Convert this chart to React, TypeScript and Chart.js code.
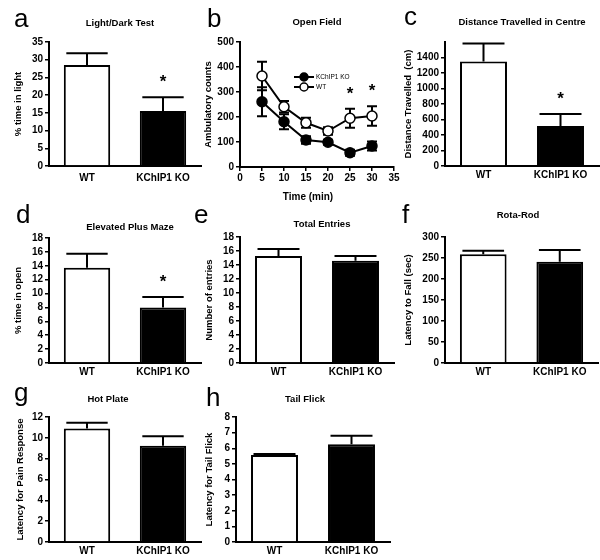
import React, { useEffect, useRef } from "react";
import { Chart, registerables } from "chart.js";

Chart.register(...registerables);

const FONT = "'Liberation Sans', Arial, Helvetica, sans-serif";
Chart.defaults.font.family = FONT;
Chart.defaults.color = "#000";

// ---------- data ----------
const groups = ["WT", "KChIP1 KO"];

// a: Light/Dark Test
const lightDarkMeans = [28.5, 15.5];
const lightDarkErr = [3.3, 3.9];
const lightDarkSig = [false, true];

// b: Open Field
const timeMin = [5, 10, 15, 20, 25, 30];
const koCounts = [261, 181, 108, 99, 57, 84];
const koCountsErr = [58, 30, 15, 10, 12, 18];
const wtCounts = [364, 241, 177, 144, 195, 204];
const wtCountsErr = [57, 23, 20, 15, 38, 39];
const openFieldSig = [false, false, false, false, true, true];

// c: Distance Travelled in Centre
const distMeans = [1350, 515];
const distErr = [230, 155];
const distSig = [false, true];

// d: Elevated Plus Maze
const epmMeans = [13.7, 8.0];
const epmErr = [2.05, 1.5];
const epmSig = [false, true];

// e: Total Entries
const entriesMeans = [15.3, 14.6];
const entriesErr = [1.0, 0.7];

// f: Rota-Rod
const rotaMeans = [259, 241];
const rotaErr = [8, 28];

// g: Hot Plate
const hotMeans = [10.9, 9.25];
const hotErr = [0.55, 0.9];

// h: Tail Flick
const tailMeans = [5.57, 6.26];
const tailErr = [0.07, 0.54];

// ---------- layout helpers ----------
const AXIS_TITLE_SIZE = 9.5;
const TICK_SIZE = 10;

type Geo = { L: number; T: number; R: number; B: number; yTitleX: number; labelPad: number; padR?: number };

function geometry(g: Geo) {
  const lh = AXIS_TITLE_SIZE * 1.2;
  const left = Math.round(g.yTitleX - lh / 2);
  const padT = 20;
  const top = g.T - padT;
  const padR = g.padR ?? 12;
  const xH = 26;
  const padB = 2;
  return {
    left,
    top,
    width: g.R - left + padR,
    height: g.B - top + xH + padB,
    yW: g.L - left,
    xH,
    padT,
    padR,
    padB,
  };
}

function yAxis(max: number, step: number, title: string, yW: number, hideAbove?: number) {
  const o: any = {
    type: "linear",
    min: 0,
    max,
    ticks: {
      stepSize: step,
      autoSkip: false,
      font: { size: TICK_SIZE, weight: "bold" },
      color: "#000",
      padding: 2,
      callback: (v: any) => String(v),
    },
    grid: { drawOnChartArea: false, drawTicks: true, tickLength: 4, color: "#000", lineWidth: 1.5 },
    border: { display: true, color: "#000", width: 2 },
    title: { display: true, text: title, font: { size: AXIS_TITLE_SIZE, weight: "bold" }, color: "#000", padding: 0 },
    afterFit: (s: any) => {
      s.width = yW;
    },
  };
  if (hideAbove !== undefined) {
    o.afterBuildTicks = (s: any) => {
      s.ticks = s.ticks.filter((t: any) => t.value <= hideAbove);
    };
  }
  return o;
}

function parsedY(chart: any, di: number, i: number) {
  const meta = chart.getDatasetMeta(di);
  return meta.controller.getParsed(i).y;
}

function drawErrors(chart: any, phase: "before" | "after") {
  const ctx = chart.ctx;
  const yScale = chart.scales.y;
  chart.data.datasets.forEach((ds: any, di: number) => {
    const errs = ds.errors;
    if (!errs) return;
    const meta = chart.getDatasetMeta(di);
    const isBar = meta.type === "bar";
    if ((isBar && phase !== "after") || (!isBar && phase !== "before")) return;
    meta.data.forEach((el: any, i: number) => {
      const v = parsedY(chart, di, i);
      const e = errs[i];
      const x = el.x;
      const yTop = yScale.getPixelForValue(v + e);
      const yBot = isBar ? el.y : yScale.getPixelForValue(v - e);
      const cap = isBar ? el.width - 5 : 10;
      ctx.save();
      ctx.strokeStyle = "#000";
      ctx.lineWidth = 2;
      ctx.beginPath();
      ctx.moveTo(x, yBot);
      ctx.lineTo(x, yTop);
      ctx.moveTo(x - cap / 2, yTop);
      ctx.lineTo(x + cap / 2, yTop);
      if (!isBar) {
        ctx.moveTo(x - cap / 2, yBot);
        ctx.lineTo(x + cap / 2, yBot);
      }
      ctx.stroke();
      ctx.restore();
    });
  });
}

const errorBarPlugin = {
  id: "errorBars",
  beforeDatasetsDraw(chart: any) {
    drawErrors(chart, "before");
  },
  afterDatasetsDraw(chart: any) {
    drawErrors(chart, "after");
  },
};

const starPlugin = {
  id: "stars",
  afterDatasetsDraw(chart: any) {
    const ctx = chart.ctx;
    const yScale = chart.scales.y;
    chart.data.datasets.forEach((ds: any, di: number) => {
      if (!ds.sig) return;
      const meta = chart.getDatasetMeta(di);
      meta.data.forEach((el: any, i: number) => {
        if (!ds.sig[i]) return;
        const v = parsedY(chart, di, i);
        const top = yScale.getPixelForValue(v + (ds.errors ? ds.errors[i] : 0));
        ctx.save();
        ctx.fillStyle = "#000";
        ctx.font = `bold 17px ${FONT}`;
        ctx.textAlign = "center";
        ctx.textBaseline = "alphabetic";
        ctx.fillText("*", el.x, top - 10);
        ctx.restore();
      });
    });
  },
};

const miniLegendPlugin = {
  id: "miniLegend",
  afterDraw(chart: any) {
    const ctx = chart.ctx;
    const a = chart.chartArea;
    chart.data.datasets.forEach((ds: any, i: number) => {
      const y = a.top + 35 + i * 10;
      const x0 = a.left + 54;
      const x1 = a.left + 74;
      ctx.save();
      ctx.strokeStyle = "#000";
      ctx.lineWidth = 2;
      ctx.beginPath();
      ctx.moveTo(x0, y);
      ctx.lineTo(x1, y);
      ctx.stroke();
      ctx.beginPath();
      ctx.arc((x0 + x1) / 2, y, 4, 0, Math.PI * 2);
      ctx.fillStyle = ds.pointBackgroundColor;
      ctx.fill();
      ctx.lineWidth = 1.5;
      ctx.stroke();
      ctx.fillStyle = "#000";
      ctx.font = `6.5px ${FONT}`;
      ctx.textAlign = "left";
      ctx.textBaseline = "middle";
      ctx.fillText(ds.label, x1 + 2, y + 0.5);
      ctx.restore();
    });
  },
};

type BarSpec = {
  kind: "bar";
  geo: Geo;
  yTitle: string;
  max: number;
  step: number;
  hideAbove?: number;
  means: number[];
  errs: number[];
  sig?: boolean[];
};

type LineSpec = { kind: "line"; geo: Geo };

function buildBar(spec: BarSpec) {
  const g = geometry(spec.geo);
  return {
    type: "bar",
    data: {
      labels: groups,
      datasets: [
        {
          data: spec.means,
          errors: spec.errs,
          sig: spec.sig,
          backgroundColor: ["#ffffff", "#000000"],
          borderColor: "#000",
          borderWidth: 2,
          barPercentage: 0.61,
          categoryPercentage: 1,
        },
      ],
    },
    options: {
      responsive: false,
      animation: false,
      devicePixelRatio: 1,
      layout: { padding: { left: 0, top: g.padT, right: g.padR, bottom: g.padB } },
      plugins: { legend: { display: false }, tooltip: { enabled: false }, title: { display: false } },
      scales: {
        x: {
          type: "category",
          offset: true,
          grid: { display: false, drawTicks: false },
          border: { display: true, color: "#000", width: 2 },
          ticks: { font: { size: TICK_SIZE, weight: "bold" }, color: "#000", padding: spec.geo.labelPad },
          afterFit: (s: any) => {
            s.height = g.xH;
          },
        },
        y: yAxis(spec.max, spec.step, spec.yTitle, g.yW, spec.hideAbove),
      },
    },
    plugins: [errorBarPlugin, starPlugin],
  };
}

function buildLine(spec: LineSpec) {
  const g = geometry(spec.geo);
  return {
    type: "line",
    data: {
      datasets: [
        {
          label: "KChIP1 KO",
          data: timeMin.map((t, i) => ({ x: t, y: koCounts[i] })),
          errors: koCountsErr,
          borderColor: "#000",
          borderWidth: 2,
          pointRadius: 5,
          pointBorderWidth: 1.5,
          pointBackgroundColor: "#000",
          pointBorderColor: "#000",
          tension: 0,
        },
        {
          label: "WT",
          data: timeMin.map((t, i) => ({ x: t, y: wtCounts[i] })),
          errors: wtCountsErr,
          sig: openFieldSig,
          borderColor: "#000",
          borderWidth: 2,
          pointRadius: 5,
          pointBorderWidth: 1.5,
          pointBackgroundColor: "#fff",
          pointBorderColor: "#000",
          tension: 0,
        },
      ],
    },
    options: {
      responsive: false,
      animation: false,
      devicePixelRatio: 1,
      layout: { padding: { left: 0, top: g.padT, right: g.padR, bottom: g.padB } },
      plugins: { legend: { display: false }, tooltip: { enabled: false }, title: { display: false } },
      scales: {
        x: {
          type: "linear",
          min: 0,
          max: 35,
          ticks: { stepSize: 5, autoSkip: false, font: { size: TICK_SIZE, weight: "bold" }, color: "#000", padding: 1 },
          grid: { drawOnChartArea: false, drawTicks: true, tickLength: 4, color: "#000", lineWidth: 1.5 },
          border: { display: true, color: "#000", width: 2 },
          afterFit: (s: any) => {
            s.height = g.xH;
          },
        },
        y: yAxis(500, 100, "Ambulatory counts", g.yW),
      },
    },
    plugins: [errorBarPlugin, starPlugin, miniLegendPlugin],
  };
}

const chartSpecs: (BarSpec | LineSpec)[] = [
  { kind: "bar", geo: { L: 49, T: 42, R: 201, B: 166, yTitleX: 19, labelPad: 6 }, yTitle: "% time in light", max: 35, step: 5, means: lightDarkMeans, errs: lightDarkErr, sig: lightDarkSig },
  { kind: "line", geo: { L: 240, T: 42, R: 394, B: 167, yTitleX: 209, labelPad: 1, padR: 14 } },
  { kind: "bar", geo: { L: 445, T: 42, R: 599, B: 166, yTitleX: 409, labelPad: 3 }, yTitle: "Distance Travelled  (cm)", max: 1600, step: 200, hideAbove: 1400, means: distMeans, errs: distErr, sig: distSig },
  { kind: "bar", geo: { L: 49, T: 238, R: 201, B: 363, yTitleX: 19, labelPad: 3 }, yTitle: "% time in open", max: 18, step: 2, means: epmMeans, errs: epmErr, sig: epmSig },
  { kind: "bar", geo: { L: 240, T: 237, R: 394, B: 363, yTitleX: 210, labelPad: 3 }, yTitle: "Number of entries", max: 18, step: 2, means: entriesMeans, errs: entriesErr },
  { kind: "bar", geo: { L: 445, T: 237, R: 598, B: 363, yTitleX: 409, labelPad: 3 }, yTitle: "Latency to Fall (sec)", max: 300, step: 50, means: rotaMeans, errs: rotaErr },
  { kind: "bar", geo: { L: 49, T: 417, R: 201, B: 542, yTitleX: 21, labelPad: 3 }, yTitle: "Latency for Pain Response", max: 12, step: 2, means: hotMeans, errs: hotErr },
  { kind: "bar", geo: { L: 236, T: 417, R: 390, B: 542, yTitleX: 210, labelPad: 3 }, yTitle: "Latency for Tail Flick", max: 8, step: 1, means: tailMeans, errs: tailErr },
];

const panelLetters = [
  { t: "a", x: 14, base: 27 },
  { t: "b", x: 207, base: 27 },
  { t: "c", x: 404, base: 24.5 },
  { t: "d", x: 16, base: 223 },
  { t: "e", x: 194, base: 223 },
  { t: "f", x: 402, base: 223 },
  { t: "g", x: 14, base: 401 },
  { t: "h", x: 206, base: 406 },
];

const panelTitles = [
  { t: "Light/Dark Test", x: 120, y: 23 },
  { t: "Open Field", x: 317, y: 22 },
  { t: "Distance Travelled in Centre", x: 522, y: 22 },
  { t: "Elevated Plus Maze", x: 130, y: 227 },
  { t: "Total Entries", x: 322, y: 224 },
  { t: "Rota-Rod", x: 518, y: 215 },
  { t: "Hot Plate", x: 108, y: 399 },
  { t: "Tail Flick", x: 305, y: 399 },
  { t: "Time (min)", x: 308, y: 197, size: 10 },
];

function ChartCanvas({ spec }: { spec: BarSpec | LineSpec }) {
  const ref = useRef<HTMLCanvasElement | null>(null);
  const g = geometry(spec.geo);
  useEffect(() => {
    if (!ref.current) return;
    const cfg: any = spec.kind === "bar" ? buildBar(spec as BarSpec) : buildLine(spec as LineSpec);
    const chart = new Chart(ref.current, cfg);
    return () => chart.destroy();
  }, []);
  return (
    <canvas
      ref={ref}
      width={g.width}
      height={g.height}
      style={{ position: "absolute", left: g.left, top: g.top, width: g.width, height: g.height }}
    />
  );
}

export default function App() {
  return (
    <div
      style={{
        position: "absolute",
        left: 0,
        top: 0,
        width: 600,
        height: 560,
        background: "#fff",
        overflow: "hidden",
        fontFamily: FONT,
        color: "#000",
      }}
    >
      {chartSpecs.map((s, i) => (
        <ChartCanvas key={i} spec={s} />
      ))}
      {panelLetters.map((p) => (
        <div
          key={p.t}
          style={{
            position: "absolute",
            left: p.x,
            top: p.base - 22,
            fontSize: 26,
            lineHeight: "26px",
            whiteSpace: "nowrap",
          }}
        >
          {p.t}
        </div>
      ))}
      {panelTitles.map((p) => (
        <div
          key={p.t}
          style={{
            position: "absolute",
            left: p.x - 100,
            width: 200,
            top: p.y - 6,
            fontSize: p.size ?? 9.5,
            lineHeight: "12px",
            fontWeight: "bold",
            textAlign: "center",
            whiteSpace: "nowrap",
          }}
        >
          {p.t}
        </div>
      ))}
    </div>
  );
}
